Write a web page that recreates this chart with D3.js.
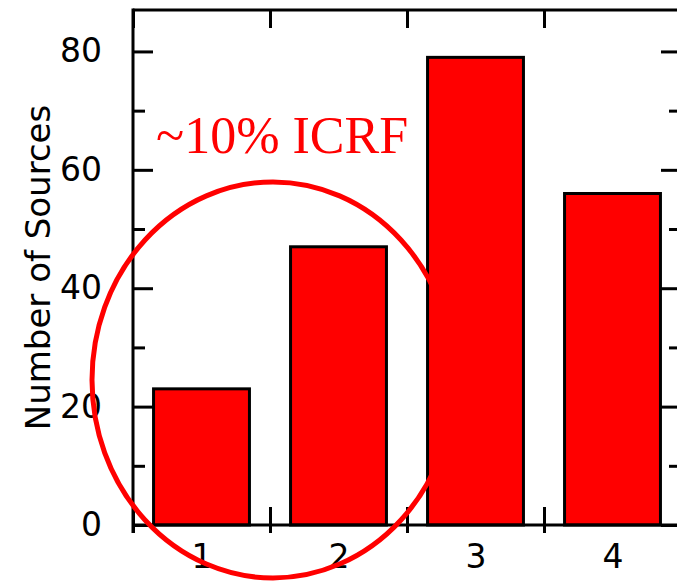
<!DOCTYPE html>
<html>
<head>
<meta charset="utf-8">
<script src="https://cdn.jsdelivr.net/npm/d3@7/dist/d3.min.js"></script>
<style>
  html, body { margin: 0; padding: 0; background: #ffffff; }
  svg { display: block; }
</style>
</head>
<body>
<svg id="chart" width="677" height="582"></svg>
<script>
// Histogram of source counts per category
const categories = [1, 2, 3, 4];
const counts = [23, 47, 79, 56];
const yMajorTicks = [0, 20, 40, 60, 80];
const yMinorTicks = [10, 30, 50, 70];
const xBoundaryTicks = [0.5, 1.5, 2.5, 3.5, 4.5];
const yTitle = "Number of Sources";
const noteText = "~10% ICRF";
// subset circled by the annotation: categories 1 and 2
const circled = [1, 2];

const plotLeft = 133, plotRight = 681, plotTop = 10, plotBottom = 525;
const RED = "#ff0000";
const FONT = "'DejaVu Sans', Verdana, sans-serif";

const svg = d3.select("#chart");

const x = d3.scaleLinear().domain([0.5, 4.5]).range([plotLeft, plotRight]);
const y = d3.scaleLinear().domain([0, 87]).range([plotBottom, plotTop]);

const barWidth = 0.7;

// bars
svg.append("g")
  .selectAll("rect")
  .data(categories.map((c, i) => ({ c, v: counts[i] })))
  .join("rect")
  .attr("x", d => x(d.c - barWidth / 2))
  .attr("width", d => x(d.c + barWidth / 2) - x(d.c - barWidth / 2))
  .attr("y", d => y(d.v))
  .attr("height", d => y(0) - y(d.v))
  .attr("fill", RED)
  .attr("stroke", "#000")
  .attr("stroke-width", 3);

// frame
const frame = svg.append("g").attr("stroke", "#000").attr("stroke-width", 3).attr("fill", "none");
frame.append("line").attr("x1", plotLeft).attr("x2", plotLeft).attr("y1", plotTop - 1.5).attr("y2", plotBottom + 8);
frame.append("line").attr("x1", plotRight).attr("x2", plotRight).attr("y1", plotTop - 1.5).attr("y2", plotBottom + 8);
frame.append("line").attr("x1", plotLeft).attr("x2", plotRight).attr("y1", plotTop).attr("y2", plotTop);
frame.append("line").attr("x1", plotLeft).attr("x2", plotRight).attr("y1", plotBottom).attr("y2", plotBottom);

function styleAxis(g) {
  g.select(".domain").remove();
  g.selectAll(".tick line").attr("stroke", "#000").attr("stroke-width", 3);
  g.selectAll(".tick text")
    .attr("fill", "#000")
    .style("font-family", FONT)
    .style("font-size", "33px");
}

// left axis: major with labels, minor without
svg.append("g")
  .attr("transform", `translate(${plotLeft},0)`)
  .call(d3.axisLeft(y).tickValues(yMajorTicks).tickSize(-20).tickPadding(31).tickFormat(d3.format("d")))
  .call(styleAxis);
svg.append("g")
  .attr("transform", `translate(${plotLeft},0)`)
  .call(d3.axisLeft(y).tickValues(yMinorTicks).tickSize(-12).tickFormat(""))
  .call(styleAxis);

// right axis mirror ticks
svg.append("g")
  .attr("transform", `translate(${plotRight},0)`)
  .call(d3.axisRight(y).tickValues(yMajorTicks).tickSize(-20).tickFormat(""))
  .call(styleAxis);
svg.append("g")
  .attr("transform", `translate(${plotRight},0)`)
  .call(d3.axisRight(y).tickValues(yMinorTicks).tickSize(-12).tickFormat(""))
  .call(styleAxis);

// bottom axis: category labels
svg.append("g")
  .attr("transform", `translate(0,${plotBottom})`)
  .call(d3.axisBottom(x).tickValues(categories).tickSize(0).tickPadding(20).tickFormat(d3.format("d")))
  .call(styleAxis);

// bottom boundary ticks crossing the axis line
svg.append("g")
  .attr("transform", `translate(0,${plotBottom})`)
  .call(d3.axisBottom(x).tickValues(xBoundaryTicks).tickSize(8).tickFormat(""))
  .call(styleAxis)
  .selectAll(".tick line").attr("y1", -18).attr("y2", 8);

// top boundary ticks
svg.append("g")
  .attr("transform", `translate(0,${plotTop})`)
  .call(d3.axisTop(x).tickValues(xBoundaryTicks).tickSize(-18).tickFormat(""))
  .call(styleAxis);

// y-axis title
svg.append("text")
  .attr("transform", `translate(50,${(102 + 433) / 2}) rotate(-90)`)
  .attr("text-anchor", "middle")
  .style("font-family", FONT)
  .style("font-size", "34px")
  .attr("fill", "#000")
  .text(yTitle);

// annotation ellipse around the circled categories
const cx = (x(circled[0]) + x(circled[1])) / 2 + 3;
svg.append("ellipse")
  .attr("cx", cx)
  .attr("cy", y(24.5))
  .attr("rx", 181)
  .attr("ry", 198)
  .attr("fill", "none")
  .attr("stroke", RED)
  .attr("stroke-width", 5);

svg.append("text")
  .attr("x", 156)
  .attr("y", 153)
  .style("font-family", "'Liberation Serif', 'Times New Roman', serif")
  .style("font-size", "52px")
  .attr("fill", RED)
  .text(noteText);
</script>
</body>
</html>
